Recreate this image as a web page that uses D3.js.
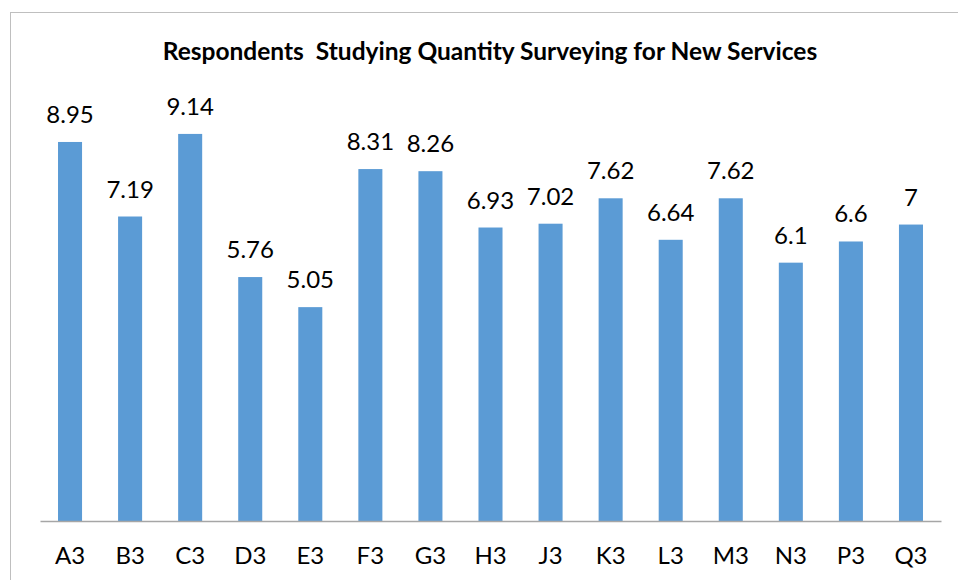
<!DOCTYPE html>
<html>
<head>
<meta charset="utf-8">
<script src="https://cdn.jsdelivr.net/npm/d3@7"></script>
<style>
  html, body { margin: 0; padding: 0; background: #fff; }
  svg { display: block; font-family: Lato, "Open Sans", sans-serif; }
</style>
</head>
<body>
<div id="chart"></div>
<script>
// Data
const categories = ['A3', 'B3', 'C3', 'D3', 'E3', 'F3', 'G3', 'H3', 'J3', 'K3', 'L3', 'M3', 'N3', 'P3', 'Q3'];
const values = [8.95, 7.19, 9.14, 5.76, 5.05, 8.31, 8.26, 6.93, 7.02, 7.62, 6.64, 7.62, 6.1, 6.6, 7];
const labels = ['8.95', '7.19', '9.14', '5.76', '5.05', '8.31', '8.26', '6.93', '7.02', '7.62', '6.64', '7.62', '6.1', '6.6', '7'];
const title = 'Respondents\u00a0 Studying Quantity Surveying for New Services';

const width = 958;
const height = 580;
const margin = { top: 97.5, right: 17, bottom: 59, left: 40 };

const svg = d3.select('#chart')
  .append('svg')
  .attr('width', width)
  .attr('height', height);

// chart area border (only left and top edges fall inside the picture)
svg.append('rect')
  .attr('x', 10.5)
  .attr('y', 12.5)
  .attr('width', width + 20)
  .attr('height', height + 20)
  .attr('fill', 'none')
  .attr('stroke', '#bfbfbf')
  .attr('stroke-width', 1);

const x = d3.scaleBand()
  .domain(categories)
  .range([margin.left, width - margin.right])
  .paddingInner(0.6)
  .paddingOuter(0.3);

const y = d3.scaleLinear()
  .domain([0, 10])
  .range([height - margin.bottom, margin.top]);

// title
svg.append('text')
  .attr('x', 490)
  .attr('y', 60)
  .attr('text-anchor', 'middle')
  .attr('font-size', '24.5px')
  .attr('font-weight', 'bold')
  .attr('fill', '#000')
  .text(title);

// bars
svg.append('g')
  .selectAll('rect')
  .data(values)
  .enter()
  .append('rect')
  .attr('x', (d, i) => x(categories[i]))
  .attr('y', d => y(d))
  .attr('width', x.bandwidth())
  .attr('height', d => y(0) - y(d))
  .attr('fill', '#5b9bd5');

// data labels
svg.append('g')
  .selectAll('text')
  .data(values)
  .enter()
  .append('text')
  .attr('x', (d, i) => x(categories[i]) + x.bandwidth() / 2)
  .attr('y', d => y(d) - 19)
  .attr('text-anchor', 'middle')
  .attr('font-size', '24px')
  .attr('fill', '#000')
  .text((d, i) => labels[i]);

// category axis
const xAxis = svg.append('g')
  .attr('transform', `translate(0,${y(0)})`)
  .call(d3.axisBottom(x).tickSize(0).tickPadding(26));

xAxis.select('.domain')
  .attr('stroke', '#a6a6a6')
  .attr('stroke-width', 1.5);

xAxis.selectAll('text')
  .attr('font-family', 'Lato, "Open Sans", sans-serif')
  .attr('font-size', '24px')
  .attr('fill', '#000');
</script>
</body>
</html>
